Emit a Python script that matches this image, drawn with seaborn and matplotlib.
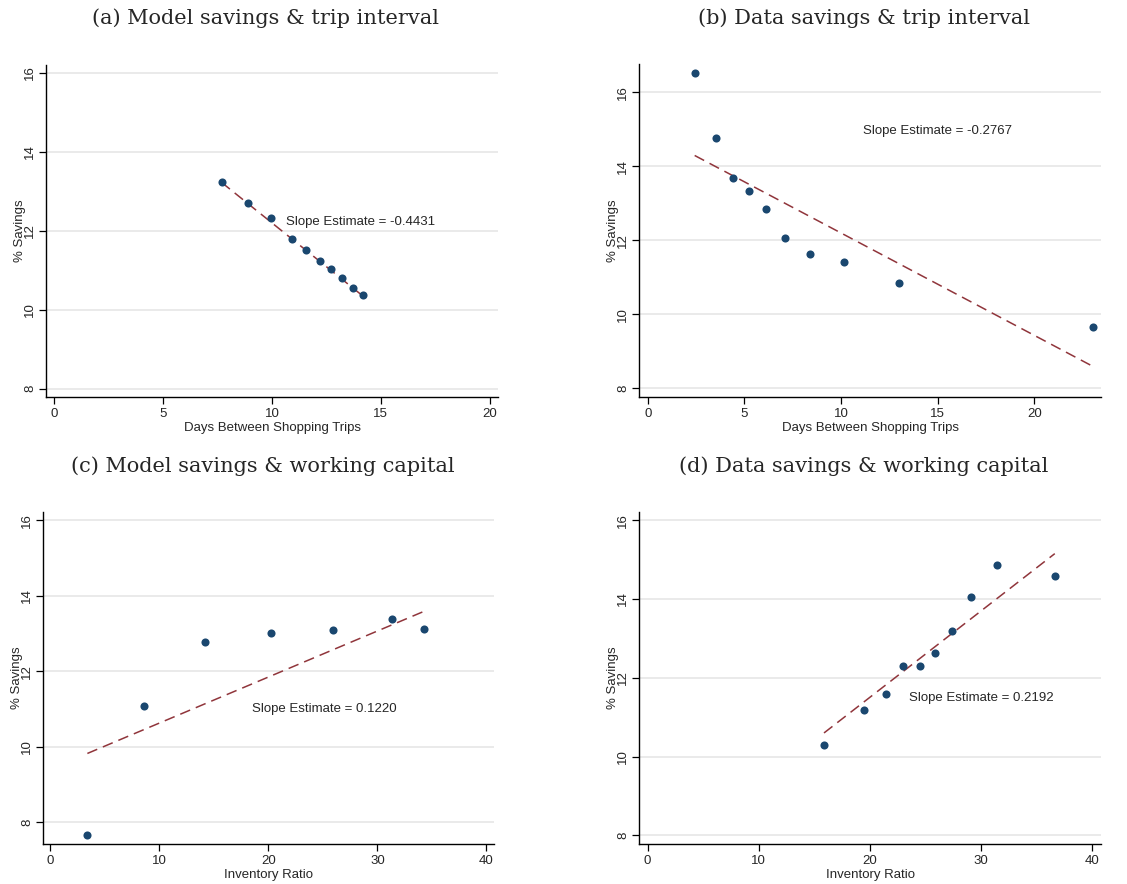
import numpy as np
import pandas as pd
import matplotlib
matplotlib.use("Agg")
import matplotlib.pyplot as plt
import seaborn as sns

sns.set_style("white")
plt.rcParams['font.family'] = ['Liberation Sans', 'DejaVu Sans']

# ---- data ----
titles = ["(a) Model savings & trip interval", "(b) Data savings & trip interval",
          "(c) Model savings & working capital", "(d) Data savings & working capital"]
xlabels = ["Days Between Shopping Trips", "Days Between Shopping Trips",
           "Inventory Ratio", "Inventory Ratio"]
ylabel = "% Savings"

a_x = [7.69, 8.91, 9.95, 10.92, 11.58, 12.22, 12.70, 13.22, 13.74, 14.17]
a_y = [13.22, 12.71, 12.32, 11.79, 11.52, 11.24, 11.03, 10.81, 10.56, 10.38]
b_x = [2.43, 3.53, 4.40, 5.22, 6.10, 7.10, 8.38, 10.16, 13.02, 23.02]
b_y = [16.53, 14.77, 13.68, 13.35, 12.84, 12.06, 11.63, 11.42, 10.84, 9.65]
c_x = [3.40, 8.60, 14.23, 20.26, 25.92, 31.31, 34.31]
c_y = [7.65, 11.09, 12.78, 13.01, 13.08, 13.39, 13.11]
d_x = [15.87, 19.51, 21.46, 22.99, 24.49, 25.90, 27.37, 29.14, 31.42, 36.64]
d_y = [10.30, 11.17, 11.59, 12.30, 12.30, 12.63, 13.18, 14.05, 14.86, 14.59]

fit_slopes = [-0.4431, -0.2767, 0.1220, 0.2192]
fit_intercepts = [16.627, 14.97, 9.405, 7.121]
slope_texts = ["Slope Estimate = -0.4431", "Slope Estimate = -0.2767",
               "Slope Estimate = 0.1220", "Slope Estimate = 0.2192"]

xticks = [[0, 5, 10, 15, 20], [0, 5, 10, 15, 20], [0, 10, 20, 30, 40], [0, 10, 20, 30, 40]]
yticks = [8, 10, 12, 14, 16]

# ---- layout ----
W, H = 1127, 884
fig = plt.figure(figsize=(W / 100, H / 100), dpi=100)

def px_axes(l, t, r, b):
    return fig.add_axes([l / W, 1 - b / H, (r - l) / W, (b - t) / H])

boxes = [(46, 65, 498, 397), (639, 64, 1101, 397),
         (43, 512, 494, 844), (639, 512, 1101, 844)]
xlims = [(-0.37, 20.38), (-0.45, 23.45), (-0.67, 40.7), (-0.78, 40.8)]
ylims = [(7.79, 16.19), (7.77, 16.77), (7.42, 16.22), (7.78, 16.21)]
text_pos = [(10.66, 12.23), (11.12, 14.97), (18.52, 11.0), (23.5, 11.48)]
title_y = [18, 18, 466, 466]

datasets = [(a_x, a_y), (b_x, b_y), (c_x, c_y), (d_x, d_y)]

navy = "#1a476f"
maroon = "#90353b"

for i, (xs, ys) in enumerate(datasets):
    ax = px_axes(*boxes[i])
    df = pd.DataFrame({"x": xs, "y": ys})
    xfit = np.array([min(xs), max(xs)])
    fit = pd.DataFrame({"x": xfit, "y": fit_intercepts[i] + fit_slopes[i] * xfit})
    sns.lineplot(data=fit, x="x", y="y", ax=ax, color=maroon, lw=1.1,
                 linestyle=(0, (7, 4)), zorder=2)
    sns.scatterplot(data=df, x="x", y="y", ax=ax, color=navy, s=34,
                    edgecolor=navy, linewidth=0, zorder=3)
    ax.set_xlim(*xlims[i])
    ax.set_ylim(*ylims[i])
    ax.set_xticks(xticks[i])
    ax.set_yticks(yticks)
    ax.set_yticklabels([str(v) for v in yticks], rotation=90, va="center")
    ax.yaxis.grid(True, color="#e6e6e6", lw=1.2)
    ax.xaxis.grid(False)
    ax.set_axisbelow(True)
    for s in ["top", "right"]:
        ax.spines[s].set_visible(False)
    for s in ["left", "bottom"]:
        ax.spines[s].set_color("black")
        ax.spines[s].set_linewidth(1.0)
    ax.tick_params(axis="x", which="major", length=5, width=0.9, color="black",
                   labelsize=9.5, pad=3, bottom=True)
    ax.tick_params(axis="y", which="major", length=5, width=0.9, color="black",
                   labelsize=9.5, pad=2, left=True)
    ax.set_xlabel(xlabels[i], fontsize=9.5, labelpad=1.5)
    ax.set_ylabel(ylabel, fontsize=9.5, labelpad=-1.5)
    ax.text(text_pos[i][0], text_pos[i][1], slope_texts[i], fontsize=9.5,
            va="center", ha="left")
    cx = (boxes[i][0] + boxes[i][2]) / 2 - 6
    fig.text(cx / W, 1 - title_y[i] / H, titles[i], ha="center", va="center",
             fontsize=15, family=["DejaVu Serif"])

fig.savefig("out.png", dpi=100)
